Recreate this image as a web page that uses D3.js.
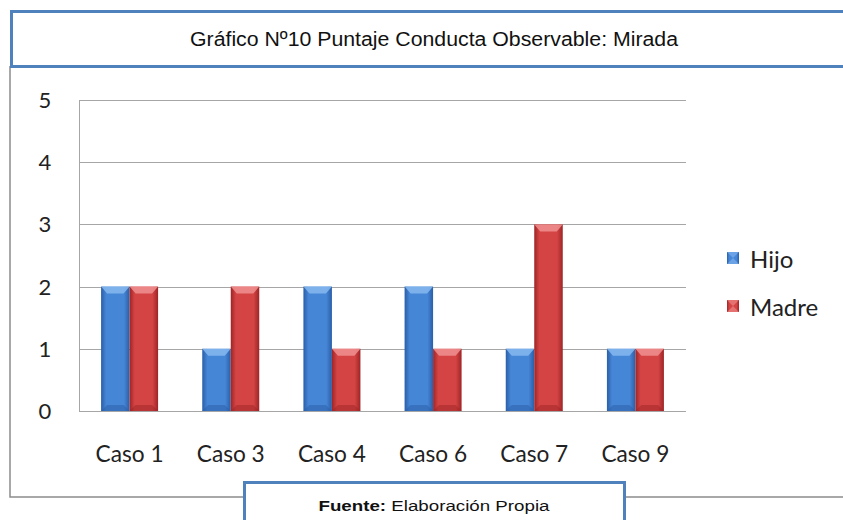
<!DOCTYPE html>
<html>
<head>
<meta charset="utf-8">
<script src="https://cdn.jsdelivr.net/npm/d3@7"></script>
<style>
  body { margin: 0; background: #fff; }
  svg { display: block; }
</style>
</head>
<body>
<div id="chart"></div>
<script>
// data
var categories = ["Caso 1", "Caso 3", "Caso 4", "Caso 6", "Caso 7", "Caso 9"];
var hijo  = [2, 1, 2, 2, 1, 1];
var madre = [2, 2, 1, 1, 3, 1];
var seriesNames = ["Hijo", "Madre"];
var yTicks = [0, 1, 2, 3, 4, 5];

var width = 843, height = 520;
var plot = {left: 79, right: 686, top: 100, bottom: 411};
var labelFont = "Lato, Open Sans, sans-serif";

var svg = d3.select("#chart").append("svg")
    .attr("width", width)
    .attr("height", height);

// gradients for the bevelled bars
var defs = svg.append("defs");
var palette = {
  Hijo:  {dark: "#2a5ea8", mid: "#4686d6", light: "#86b8f0"},
  Madre: {dark: "#9e2426", mid: "#d44444", light: "#f09090"}
};
seriesNames.forEach(function(s) {
  var g = defs.append("linearGradient").attr("id", "grad" + s)
    .attr("x1", "0%").attr("x2", "100%").attr("y1", "0%").attr("y2", "0%");
  g.append("stop").attr("offset", "0%").attr("stop-color", palette[s].dark);
  g.append("stop").attr("offset", "18%").attr("stop-color", palette[s].mid);
  g.append("stop").attr("offset", "80%").attr("stop-color", palette[s].mid);
  g.append("stop").attr("offset", "100%").attr("stop-color", palette[s].dark);
});

// outer gray frame
svg.append("path")
    .attr("d", "M10,66 L10,497 L843,497")
    .attr("fill", "none")
    .attr("stroke", "#8c8c8c")
    .attr("stroke-width", 1.5);

// title box
svg.append("rect")
    .attr("x", 11.5).attr("y", 11.5)
    .attr("width", 840).attr("height", 55)
    .attr("fill", "#fff")
    .attr("stroke", "#4f81bd")
    .attr("stroke-width", 3);

svg.append("text")
    .attr("x", 434).attr("y", 46)
    .attr("text-anchor", "middle")
    .attr("textLength", 488)
    .attr("lengthAdjust", "spacingAndGlyphs")
    .style("font-family", "Liberation Sans, Arial, sans-serif")
    .style("font-size", "20px")
    .style("fill", "#111")
    .text("Gráfico Nº10 Puntaje Conducta Observable: Mirada");

// scales
var x0 = d3.scaleBand().domain(categories).range([plot.left, plot.right]);
var x1 = d3.scaleBand().domain(seriesNames).range([0, 57]);
var y = d3.scaleLinear().domain([0, 5]).range([plot.bottom, plot.top]);

// gridlines
svg.append("g").selectAll("line")
  .data(yTicks)
  .join("line")
    .attr("x1", plot.left).attr("x2", plot.right)
    .attr("y1", d => Math.round(y(d)) + 0.5)
    .attr("y2", d => Math.round(y(d)) + 0.5)
    .attr("stroke", "#a6a6a6")
    .attr("stroke-width", 1);

// y axis line
svg.append("line")
    .attr("x1", plot.left + 0.5).attr("x2", plot.left + 0.5)
    .attr("y1", plot.top).attr("y2", plot.bottom)
    .attr("stroke", "#a6a6a6");

// y labels
svg.append("g").selectAll("text")
  .data(yTicks)
  .join("text")
    .attr("x", 45)
    .attr("y", d => y(d) + 8)
    .attr("text-anchor", "middle")
    .style("font-family", labelFont)
    .style("font-size", "22px")
    .style("fill", "#222")
    .text(d => d);

// bars
var rows = categories.map(function(c, i) {
  return {cat: c, vals: [{s: "Hijo", v: hijo[i]}, {s: "Madre", v: madre[i]}]};
});

var groups = svg.append("g").selectAll("g")
  .data(rows)
  .join("g")
    .attr("transform", d => "translate(" + (x0(d.cat) + x0.bandwidth() / 2 - 28.5) + ",0)");

var bars = groups.selectAll("g")
  .data(d => d.vals)
  .join("g");

bars.append("rect")
    .attr("x", d => x1(d.s))
    .attr("y", d => y(d.v))
    .attr("width", x1.bandwidth())
    .attr("height", d => y(0) - y(d.v))
    .attr("fill", d => "url(#grad" + d.s + ")");

// top bevel highlight
bars.append("path")
    .attr("d", function(d) {
      var xa = x1(d.s), w = x1.bandwidth(), yt = y(d.v);
      return "M" + xa + "," + yt + " L" + (xa + w) + "," + yt +
             " L" + (xa + w - 6) + "," + (yt + 7) + " L" + (xa + 6) + "," + (yt + 7) + " Z";
    })
    .attr("fill", d => palette[d.s].light)
    .attr("opacity", 0.85);

// bottom shade
bars.append("path")
    .attr("d", function(d) {
      var xa = x1(d.s), w = x1.bandwidth(), yb = y(0);
      return "M" + (xa + 6) + "," + (yb - 6) + " L" + (xa + w - 6) + "," + (yb - 6) +
             " L" + (xa + w) + "," + yb + " L" + xa + "," + yb + " Z";
    })
    .attr("fill", d => palette[d.s].dark)
    .attr("opacity", 0.5);

// x labels
svg.append("g").selectAll("text")
  .data(categories)
  .join("text")
    .attr("x", d => x0(d) + x0.bandwidth() / 2)
    .attr("y", 462)
    .attr("text-anchor", "middle")
    .attr("textLength", 68)
    .attr("lengthAdjust", "spacingAndGlyphs")
    .style("font-family", labelFont)
    .style("font-size", "23px")
    .style("fill", "#222")
    .text(d => d);

// legend
var legend = svg.append("g").selectAll("g")
  .data(seriesNames)
  .join("g")
    .attr("transform", (d, i) => "translate(727," + (252 + i * 48) + ")");

legend.append("rect")
    .attr("width", 12).attr("height", 12)
    .attr("fill", d => "url(#grad" + d + ")");
legend.append("path")
    .attr("d", "M0,0 L12,0 L6,6 Z M0,12 L12,12 L6,6 Z")
    .attr("fill", d => palette[d].light)
    .attr("opacity", 0.6);

legend.append("text")
    .attr("x", 23).attr("y", 16)
    .style("font-family", labelFont)
    .style("font-size", "24px")
    .style("fill", "#222")
    .text(d => d);

// source box
svg.append("rect")
    .attr("x", 244.5).attr("y", 482.5)
    .attr("width", 380).attr("height", 50)
    .attr("fill", "#fff")
    .attr("stroke", "#4f81bd")
    .attr("stroke-width", 3);

var src = svg.append("text")
    .attr("x", 434).attr("y", 511)
    .attr("text-anchor", "middle")
    .attr("textLength", 231)
    .attr("lengthAdjust", "spacingAndGlyphs")
    .style("font-family", "Liberation Sans, Arial, sans-serif")
    .style("font-size", "15.5px")
    .style("fill", "#111");
src.append("tspan").style("font-weight", "bold").text("Fuente:");
src.append("tspan").text(" Elaboración Propia");
</script>
</body>
</html>
